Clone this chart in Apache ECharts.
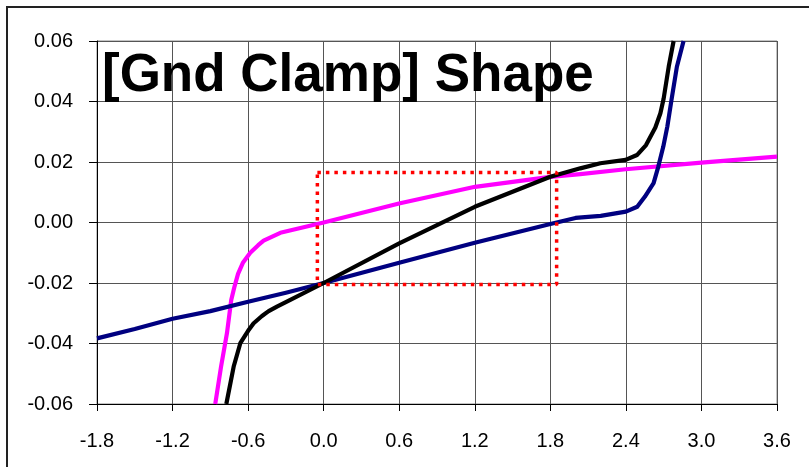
<!DOCTYPE html>
<html>
<head>
<meta charset="utf-8">
<script src="https://cdn.jsdelivr.net/npm/echarts@6/dist/echarts.min.js"></script>
<style>html,body{margin:0;padding:0;background:#fff}#c{width:809px;height:467px}</style>
</head>
<body>
<div id="c"></div>
<script>
var titleText = "[Gnd Clamp] Shape";
var xTicks = [-1.8, -1.2, -0.6, 0.0, 0.6, 1.2, 1.8, 2.4, 3.0, 3.6];
var yTicks = [-0.06, -0.04, -0.02, 0.00, 0.02, 0.04, 0.06];

var magentaX = [-0.861, -0.815, -0.768, -0.734, -0.71, -0.68, -0.64, -0.583, -0.52, -0.477, -0.344, 0.0, 0.598, 1.202, 1.8, 2.038, 2.398, 3.0, 3.6];
var magentaY = [-0.06, -0.0477, -0.0366, -0.0256, -0.0215, -0.0170, -0.0132, -0.0100, -0.0075, -0.0060, -0.0034, 0.0, 0.0063, 0.0118, 0.0151, 0.0160, 0.0176, 0.0198, 0.0218];

var navyX = [-1.8, -1.5, -1.2, -0.9, -0.6, -0.3, 0.0, 0.6, 1.2, 1.8, 2.0, 2.2, 2.4, 2.49, 2.55, 2.62, 2.657, 2.697, 2.729, 2.762, 2.805, 2.858];
var navyY = [-0.0383, -0.0352, -0.0318, -0.0293, -0.0262, -0.0232, -0.0200, -0.0133, -0.0067, -0.0005, 0.0015, 0.0022, 0.0036, 0.0052, 0.0085, 0.0130, 0.0184, 0.0251, 0.0317, 0.0405, 0.0515, 0.06];

var blackX = [-0.773, -0.715, -0.662, -0.6, -0.556, -0.49, -0.437, -0.371, -0.265, 0.0, 0.6, 1.2, 1.8, 2.038, 2.197, 2.398, 2.488, 2.56, 2.634, 2.674, 2.7, 2.74, 2.779];
var blackY = [-0.06, -0.0477, -0.0399, -0.0358, -0.0333, -0.0309, -0.0293, -0.0278, -0.0256, -0.0200, -0.0069, 0.0052, 0.0151, 0.0179, 0.0196, 0.0207, 0.0223, 0.0256, 0.0314, 0.0361, 0.0410, 0.0515, 0.06];

var boxX = [-0.05, 1.85, 1.85, -0.05, -0.05];
var boxY = [0.0165, 0.0165, -0.0205, -0.0205, 0.0165];

function pairs(xs, ys) { return xs.map(function (x, i) { return [x, ys[i]]; }); }

var chart = echarts.init(document.getElementById('c'), null, {renderer: 'canvas'});
var lineBase = {type: 'line', showSymbol: false, symbol: 'none', smooth: false, animation: false, clip: true};
chart.setOption({
  animation: false,
  backgroundColor: '#fff',
  title: {
    text: titleText,
    left: 97, top: 45,
    textStyle: {fontFamily: 'Liberation Sans', fontWeight: 'bold', fontSize: 53, color: '#000', lineHeight: 53}
  },
  graphic: [{
    type: 'rect', silent: true, z: -1,
    shape: {x: 7, y: 7, width: 900, height: 600},
    style: {fill: 'none', stroke: '#222', lineWidth: 2}
  }],
  grid: {left: 97, right: 32, top: 41, bottom: 63, show: true, backgroundColor: '#fff', borderColor: '#888', borderWidth: 1},
  xAxis: {
    type: 'value', min: xTicks[0], max: xTicks[xTicks.length - 1], interval: 0.6,
    axisLine: {show: true, onZero: false, lineStyle: {color: '#000', width: 1}},
    axisTick: {show: true, length: 7, lineStyle: {color: '#000'}},
    axisLabel: {margin: 27, fontFamily: 'Liberation Sans', fontSize: 20, color: '#000',
      formatter: function (v) { return (Math.round(v * 10) / 10).toFixed(1); }},
    splitLine: {show: true, lineStyle: {color: '#555', width: 1}}
  },
  yAxis: {
    type: 'value', min: yTicks[0], max: yTicks[yTicks.length - 1], interval: 0.02,
    axisLine: {show: true, onZero: false, lineStyle: {color: '#000', width: 1}},
    axisTick: {show: true, length: 8, lineStyle: {color: '#000'}},
    axisLabel: {margin: 24, fontFamily: 'Liberation Sans', fontSize: 20, color: '#000',
      formatter: function (v) { return (Math.round(v * 100) / 100).toFixed(2); }},
    splitLine: {show: true, lineStyle: {color: '#555', width: 1}}
  },
  series: [
    Object.assign({}, lineBase, {name: 'magenta', data: pairs(magentaX, magentaY), lineStyle: {color: '#FF00FF', width: 4.2, join: 'round'}, z: 3}),
    Object.assign({}, lineBase, {name: 'navy', data: pairs(navyX, navyY), lineStyle: {color: '#000080', width: 4.2, join: 'round'}, z: 4}),
    Object.assign({}, lineBase, {name: 'black', data: pairs(blackX, blackY), lineStyle: {color: '#000000', width: 4.2, join: 'round'}, z: 5}),
    Object.assign({}, lineBase, {name: 'box', data: pairs(boxX, boxY), lineStyle: {color: '#FF0000', width: 3.5, type: [3.5, 5], cap: 'butt'}, z: 6})
  ]
});
</script>
</body>
</html>
